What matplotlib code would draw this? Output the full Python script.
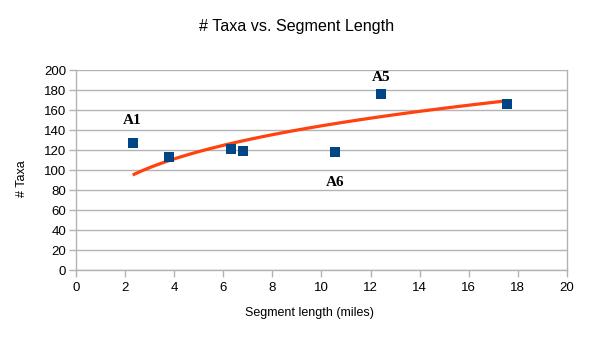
import matplotlib
matplotlib.use("Agg")
import matplotlib.pyplot as plt
import numpy as np

# survey segments: length in miles and number of taxa found
seg_length = [2.31, 3.80, 6.30, 6.82, 10.54, 12.42, 17.54]
taxa_count = [127, 113, 121, 119, 118, 176, 166]

# labelled segments (index into the lists above)
labels = {0: "A1", 5: "A5", 4: "A6"}
label_offsets = {"A1": (0, 23), "A5": (0, 17), "A6": (0, -30)}

# power trend line y = a * x^b
trend_a = 74.9
trend_b = 0.2844
trend_x_start = 2.31
trend_x_end = 17.5

plt.rcParams['font.family'] = ['Liberation Sans', 'DejaVu Sans']

fig = plt.figure(figsize=(5.96, 3.41), dpi=100)
ax = fig.add_axes([0.1275, 0.2082, 0.8238, 0.5865])

grid_col = "#b3b3b3"
ax.set_xlim(0, 20)
ax.set_ylim(0, 200)
ax.set_xticks(np.arange(0, 21, 2))
ax.set_yticks(np.arange(0, 201, 20))
ax.yaxis.grid(True, color=grid_col, linewidth=1)
ax.set_axisbelow(True)
for s in ax.spines.values():
    s.set_color(grid_col)
    s.set_linewidth(1)
ax.spines['top'].set_visible(False)
ax.tick_params(axis='both', colors=grid_col, length=5, width=1,
               labelcolor='black', labelsize=9.5, direction='out')
ax.tick_params(axis='y', pad=2)

tx = np.linspace(trend_x_start, trend_x_end, 100)
ax.plot(tx, trend_a * tx ** trend_b, color="#ff420e", linewidth=2.3,
        solid_capstyle='butt', zorder=2)

ax.scatter(seg_length, taxa_count, marker='s', s=62, color="#004586",
           linewidths=0, zorder=3)

for i, name in labels.items():
    dx, dy = label_offsets[name]
    ax.annotate(name, (seg_length[i], taxa_count[i]), xytext=(dx, dy),
                textcoords='offset pixels', ha='center', va='center',
                fontsize=11, fontweight='bold', family='Liberation Serif')

# titles are placed on the figure, not centred on the plot area
fig.text(0.497, 0.921, "# Taxa vs. Segment Length", fontsize=11.6,
         ha='center', va='center')
fig.text(0.519, 0.082, "Segment length (miles)", fontsize=9,
         ha='center', va='center')
fig.text(0.037, 0.475, "# Taxa", fontsize=9, rotation=90,
         ha='center', va='center')

fig.savefig("out.png", dpi=100, facecolor='white')
